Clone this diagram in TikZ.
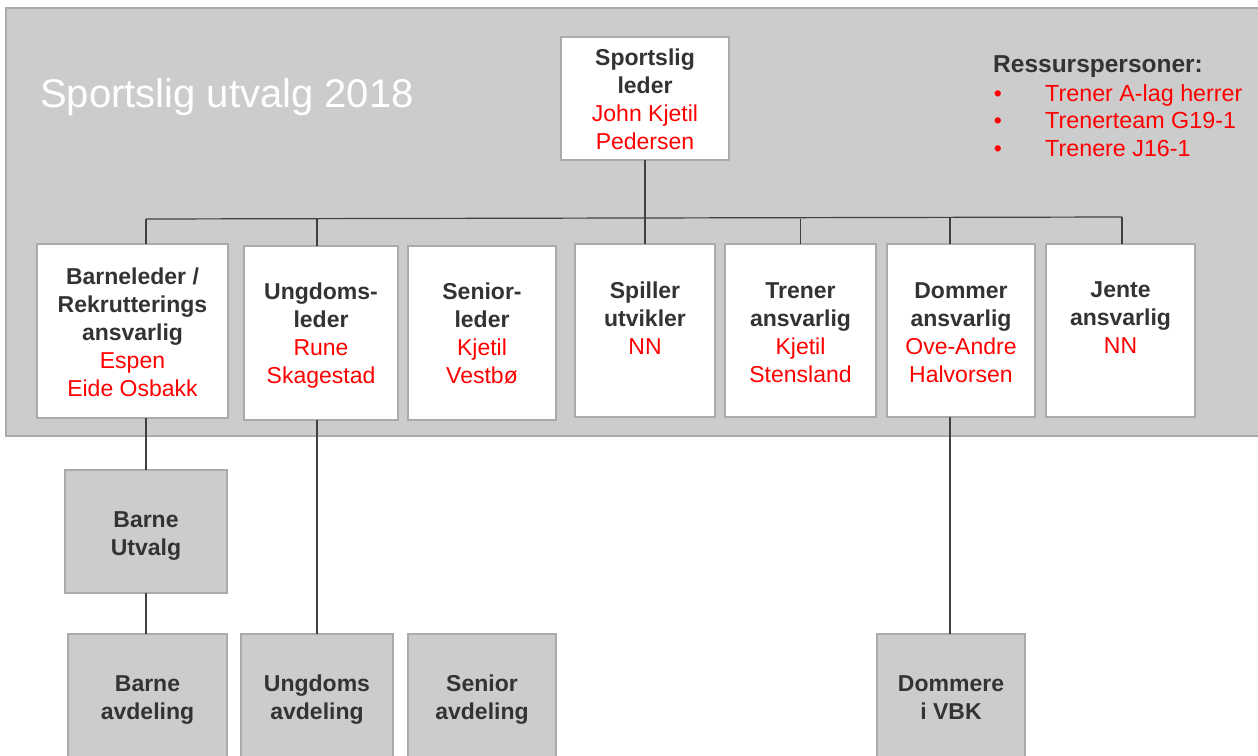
\documentclass[tikz,border=0pt]{standalone}
\usepackage{fontspec}
\setmainfont{Liberation Sans}
\usetikzlibrary{calc}
\definecolor{bg}{HTML}{CCCCCC}
\definecolor{bd}{HTML}{ABABAB}
\definecolor{tx}{HTML}{333333}
\definecolor{rd}{HTML}{FF0000}
\definecolor{ln}{HTML}{404040}
\newcommand{\bk}[1]{\textbf{\textcolor{tx}{#1}}}
\newcommand{\rdt}[1]{\textcolor{rd}{#1}}
\begin{document}
\begin{tikzpicture}[x=1pt,y=-1pt,
  wbox/.style={draw=bd, line width=1.3pt, fill=white, inner sep=0pt, outer sep=0pt},
  gbox/.style={draw=bd, line width=1.3pt, fill=bg, inner sep=0pt, outer sep=0pt},
  txt/.style={align=center, font=\fontsize{23}{28}\selectfont, inner sep=0pt},
  conn/.style={draw=ln, line width=1.2pt}]
\useasboundingbox (0,0) rectangle (1258,755);
\clip (0,0) rectangle (1258,755);
\fill[white] (0,0) rectangle (1258,755);
% panel
\node[gbox, minimum width=1262pt, minimum height=428pt, anchor=north west] (panel) at (6,8) {};
\node[anchor=base west, inner sep=0pt, text=white, font=\fontsize{40}{48}\selectfont] (title) at (40,107) {Sportslig utvalg 2018};
% resource persons
\node[anchor=base west, inner sep=0pt, font=\fontsize{24.5}{28}\selectfont] (res) at (993,72) {\bk{Ressurspersoner:}};
\node[anchor=base, inner sep=0pt, font=\fontsize{23}{28}\selectfont, text=rd] (b1) at (998,101) {•};
\node[anchor=base, inner sep=0pt, font=\fontsize{23}{28}\selectfont, text=rd] (b2) at (998,128) {•};
\node[anchor=base, inner sep=0pt, font=\fontsize{23}{28}\selectfont, text=rd] (b3) at (998,156) {•};
\node[anchor=base west, inner sep=0pt, font=\fontsize{23.3}{28}\selectfont] (r1) at (1045,101) {\rdt{Trener A-lag herrer}};
\node[anchor=base west, inner sep=0pt, font=\fontsize{23.3}{28}\selectfont] (r2) at (1045,128) {\rdt{Trenerteam G19-1}};
\node[anchor=base west, inner sep=0pt, font=\fontsize{23.3}{28}\selectfont] (r3) at (1045,156) {\rdt{Trenere J16-1}};
% boxes
\node[wbox, minimum width=168pt, minimum height=123pt] (sl) at (645,98.5) {};
\node[wbox, minimum width=191pt, minimum height=174pt] (bl) at (132.5,331) {};
\node[wbox, minimum width=154pt, minimum height=174pt] (ul) at (321,333) {};
\node[wbox, minimum width=148pt, minimum height=174pt] (se) at (482,333) {};
\node[wbox, minimum width=140pt, minimum height=173pt] (sp) at (645,330.5) {};
\node[wbox, minimum width=151pt, minimum height=173pt] (tr) at (800.5,330.5) {};
\node[wbox, minimum width=148pt, minimum height=173pt] (do) at (961,330.5) {};
\node[wbox, minimum width=149pt, minimum height=173pt] (je) at (1120.5,330.5) {};
\node[gbox, minimum width=162pt, minimum height=123pt] (bu) at (146,531.5) {};
\node[gbox, minimum width=159pt, minimum height=126pt] (ba) at (147.5,697) {};
\node[gbox, minimum width=152pt, minimum height=126pt] (ua) at (317,697) {};
\node[gbox, minimum width=148pt, minimum height=126pt] (sa) at (482,697) {};
\node[gbox, minimum width=148pt, minimum height=126pt] (dv) at (951,697) {};
% texts
\node[txt] (slt) at (645,99) {\bk{Sportslig}\\\bk{leder}\\\rdt{John Kjetil}\\\rdt{Pedersen}};
\node[txt] (blt) at (132.5,332) {\bk{Barneleder /}\\\bk{Rekrutterings}\\\bk{ansvarlig}\\\rdt{Espen}\\\rdt{Eide Osbakk}};
\node[txt] (ult) at (321,336) {\bk{Ungdoms-}\\\bk{leder}\\\rdt{Rune}\\\rdt{Skagestad}};
\node[txt] (set) at (482,333) {\bk{Senior-}\\\bk{leder}\\\rdt{Kjetil}\\\rdt{Vestbø}};
\node[txt] (spt) at (645,318) {\bk{Spiller}\\\bk{utvikler}\\\rdt{NN}};
\node[txt] (trt) at (800.5,333) {\bk{Trener}\\\bk{ansvarlig}\\\rdt{Kjetil}\\\rdt{Stensland}};
\node[txt] (dot) at (961,333) {\bk{Dommer}\\\bk{ansvarlig}\\\rdt{Ove-Andre}\\\rdt{Halvorsen}};
\node[txt] (jet) at (1120.5,318) {\bk{Jente}\\\bk{ansvarlig}\\\rdt{NN}};
\node[txt] (but) at (146,536) {\bk{Barne}\\\bk{Utvalg}};
\node[txt] (bat) at (147.5,700) {\bk{Barne}\\\bk{avdeling}};
\node[txt] (uat) at (317,700) {\bk{Ungdoms}\\\bk{avdeling}};
\node[txt] (sat) at (482,700) {\bk{Senior}\\\bk{avdeling}};
\node[txt] (dvt) at (951,698) {\bk{Dommere}\\\bk{i VBK}};
% connectors
\coordinate (busL) at (146,219);
\coordinate (busR) at (1122,217);
\coordinate (tU) at (317,218.5);
\coordinate (tD) at (950,217.5);
\draw[conn] (busL) -- (busR);
\draw[conn] (sl.south) -- (sp.north);
\draw[conn] (busL) -- (busL |- bl.north);
\draw[conn] (tU) -- (tU |- ul.north);
\draw[conn] (tr.north |- tU) -- (tr.north);
\draw[conn] (tD) -- (tD |- do.north);
\draw[conn] (busR) -- (busR |- je.north);
\draw[conn] (bl.south -| bu.north) -- (bu.north);
\draw[conn] (bu.south) -- (bu.south |- ba.north);
\draw[conn] (ua.north |- ul.south) -- (ua.north);
\draw[conn] (tD |- do.south) -- (tD |- dv.north);
\end{tikzpicture}
\end{document}
